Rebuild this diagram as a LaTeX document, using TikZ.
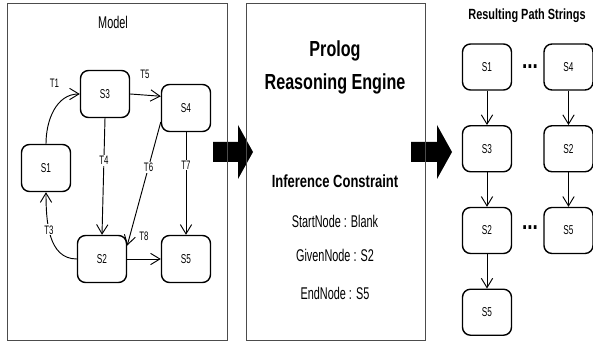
\documentclass[tikz,border=0pt]{standalone}
\usepackage{fontspec}
\setmainfont{Liberation Sans}[FakeStretch=0.64, BoldFeatures={FakeStretch=0.74}]
\usetikzlibrary{arrows.meta,positioning}
\tikzset{%
	state/.style     = {draw, rectangle, rounded corners=2.4mm, line width=1.2pt, minimum width=1.47cm, minimum height=1.41cm, text centered, font=\fontsize{11}{13}\selectfont},
	pathstate/.style = {state, minimum height=1.38cm},
	trans/.style     = {line width=0.8pt, -{Straight Barb[length=2.8mm,width=3.4mm]}},
	tlabel/.style    = {font=\fontsize{10.5}{12}\selectfont, inner sep=1pt},
	panel/.style     = {draw=black!70, line width=0.8pt},
	heading/.style   = {anchor=base, font=\fontsize{14.5}{16}\selectfont},
}

\begin{document}
\begin{tikzpicture}[x=0.03cm,y=0.03cm]
	\useasboundingbox (0,0) rectangle (593,343);
	% block arrows between the panels
	\fill (213,181) -- (238,181) -- (238,164) -- (253,191) -- (238,218) -- (238,201) -- (213,201) -- cycle;
	\fill (411,181) -- (437,181) -- (437,164) -- (452,191) -- (437,218) -- (437,201) -- (411,201) -- cycle;
	% panels
	\draw[panel] (7,3) rectangle (227,340);
	\draw[panel] (246,3) rectangle (425,340);

	% model
	\node[heading] (model) at (113,314) {Model};
	\node[state] (s3) at (105,249) {S3};
	\node[state] (s4) at (186,235) {S4};
	\node[state] (s1) at (46,175) {S1};
	\node[state] (s2) at (102,84) {S2};
	\node[state] (s5) at (186,84) {S5};
	\draw[trans] (s1.north) to[out=90,in=180] node[tlabel, pos=0.75, above left=2.8mm and 1.2mm] {T1} (s3.west);
	\draw[trans] (s3.east) -- node[tlabel, pos=0.48, above=4.3mm] {T5} (s4.155);
	\draw[trans] (s3.south) -- node[tlabel, fill=white, pos=0.36] {T4} (s2.north);
	\draw[trans] (s4.209) -- node[tlabel, fill=white, pos=0.365] {T6} (s2.28);
	\draw[trans] (s4.south) -- node[tlabel, fill=white, pos=0.32] {T7} (s5.north);
	\draw[trans] (s2.east) -- node[tlabel, pos=0.5, above=4.9mm] {T8} (s5.west);
	\draw[trans] (s2.west) to[out=180,in=-90] node[tlabel, fill=white, pos=0.58] {T3} (s1.south);

	% reasoning engine
	\node[heading, font=\bfseries\fontsize{18.6}{20}\selectfont] (prolog) at (335,286) {Prolog};
	\node[heading, font=\bfseries\fontsize{18.6}{20}\selectfont] (engine) at (335,253) {Reasoning Engine};
	\node[heading, font=\bfseries\fontsize{15}{17}\selectfont] (constraint) at (335,155) {Inference Constraint};
	\node[heading] (startnode) at (335,115) {StartNode : Blank};
	\node[heading] (givennode) at (335,81) {GivenNode : S2};
	\node[heading] (endnode) at (335,43) {EndNode : S5};

	% resulting path strings
	\node[heading, font=\bfseries\fontsize{12.6}{14}\selectfont] (result) at (527,323) {Resulting Path Strings};
	\node[pathstate] (ra1) at (487,276) {S1};
	\node[pathstate, below=1.03cm of ra1] (ra2) {S3};
	\node[pathstate, below=1.03cm of ra2] (ra3) {S2};
	\node[pathstate, below=1.03cm of ra3] (ra4) {S5};
	\node[pathstate] (rb1) at (568.5,276) {S4};
	\node[pathstate, below=1.03cm of rb1] (rb2) {S2};
	\node[pathstate, below=1.03cm of rb2] (rb3) {S5};
	\node[font=\bfseries\fontsize{22}{22}\selectfont] (dotsa) at (530,276) {...};
	\node[font=\bfseries\fontsize{22}{22}\selectfont] (dotsb) at (530,115) {...};
	\draw[trans] (ra1) -- (ra2);
	\draw[trans] (ra2) -- (ra3);
	\draw[trans] (ra3) -- (ra4);
	\draw[trans] (rb1) -- (rb2);
	\draw[trans] (rb2) -- (rb3);
\end{tikzpicture}
\end{document}
